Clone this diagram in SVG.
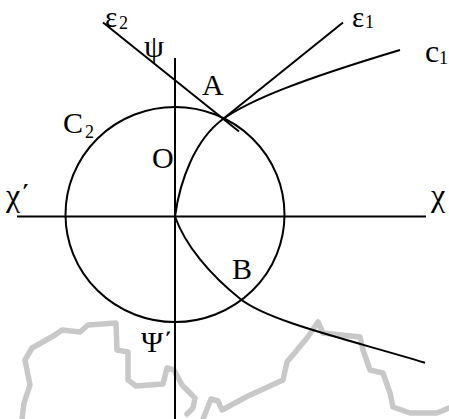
<svg xmlns="http://www.w3.org/2000/svg" width="449" height="419" viewBox="0 0 449 419">
<style>
.ln{fill:none;stroke:#000;stroke-width:2}
.wm{fill:none;stroke:#c8c8c8;stroke-width:5.5;stroke-linejoin:round;stroke-linecap:round}
text{font-family:"Liberation Serif","Times New Roman",serif;fill:#000}
.t{font-size:30px}
.g{font-size:32px}
.e{font-size:29px}
.s{font-size:18px}
</style>
<rect width="449" height="419" fill="#fff"/>
<g id="watermark">
<polyline class="wm" points="22,419 24,403 30,385 25,360 32,348 55,335 62,330 80,332 88,325 116,323 117,350 128,352 128,380 136,386 163,384 167,368 174,370 182,385 195,398 193,408 187,414"/>
<polyline class="wm" points="203,419 211,399 218,401 222,410 248,396 283,380 287,362 307,338 318,322 323,333 360,337 363,350 370,370 383,373 390,393 393,407 410,413 437,413 449,408"/>
</g>
<g id="connectors">
<line class="ln" x1="17" y1="216.5" x2="426" y2="216.5"/>
<line class="ln" x1="175" y1="58" x2="175" y2="419"/>
<line class="ln" x1="103" y1="22.5" x2="239" y2="131.5"/>
<line class="ln" x1="222.7" y1="119.3" x2="343" y2="22.5"/>
<path class="ln" d="M175,216.5 C180,180 195,140 222.7,119.3 C250,100 300,80 400,50"/>
<path class="ln" d="M175,216.5 C185,245 210,275 240.7,299.3 C270,322 350,340 425,362.7"/>
</g>
<g id="C2">
<ellipse class="ln" cx="175" cy="214.5" rx="109.5" ry="107.5"/>
<text class="t" x="63" y="133">C</text><text class="s" x="85" y="138">2</text>
</g>
<g id="labels">
<text class="e" x="105" y="27">ε</text><text class="s" x="119" y="29">2</text>
<text class="e" x="352" y="27">ε</text><text class="s" x="365" y="28">1</text>
<text class="g" x="425" y="62">c</text><text class="s" x="439" y="64">1</text>
<text class="g" x="144" y="57">ψ</text>
<text class="t" x="202" y="95">A</text>
<text class="t" x="152" y="168">O</text>
<text class="t" x="232" y="279">B</text>
<text class="g" x="431" y="206">χ</text>
<text class="g" x="6" y="206">χ΄</text>
<text class="t" x="141" y="352">Ψ΄</text>
</g>
</svg>
